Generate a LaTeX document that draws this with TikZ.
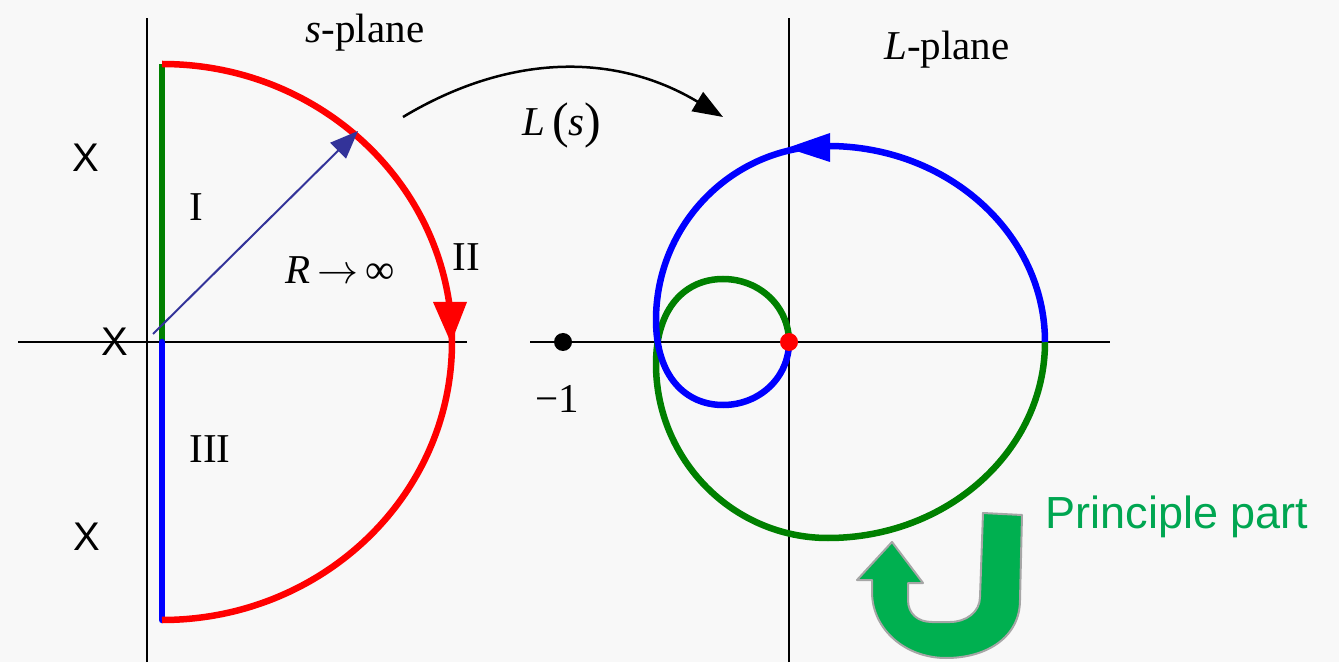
\RequirePackage{fix-cm}
\documentclass[tikz,border=0pt]{standalone}
\usepackage{fontspec}
\setmainfont{Liberation Serif}
\setsansfont{Liberation Sans}
\usetikzlibrary{arrows.meta}
\definecolor{bggray}{RGB}{248, 248, 248}
\definecolor{nyqred}{RGB}{255, 0, 0}
\definecolor{nyqgreen}{RGB}{0, 128, 0}
\definecolor{nyqblue}{RGB}{0, 0, 255}
\definecolor{radiusnavy}{RGB}{51, 51, 153}
\definecolor{ushapegreen}{RGB}{0, 176, 80}
\definecolor{ushapeedge}{RGB}{166, 166, 166}
\definecolor{notegreen}{RGB}{0, 166, 81}
\newcommand{\bigparen}[1]{{\fontsize{50}{50}\selectfont\raisebox{-2pt}{#1}}}

\begin{document}
\begin{tikzpicture}[x=1pt,y=1pt,
    axis/.style={line width=2pt},
    contour/.style={line width=6.5pt},
    lbl/.style={font=\fontsize{41}{45}\selectfont, inner sep=0pt},
    polemark/.style={font=\sffamily\fontsize{40}{44}\selectfont, inner sep=0pt}]
    \fill[bggray] (0,0) rectangle (1339,662);
    \useasboundingbox (0,0) rectangle (1339,662);
    % s-plane
    \draw[axis] (147,0) -- (147,644);
    \draw[axis] (18,320) -- (467,320);
    \draw[contour,nyqgreen] (162,598) -- (162,320);
    \draw[contour,nyqblue,line cap=round] (162,320) -- (162,42);
    \draw[contour,nyqred] (162,598) arc[start angle=90,end angle=-90,x radius=290,y radius=278];
    \fill[nyqred] (451,319) -- (433,360) -- (467,360) -- cycle;
    \coordinate (sorig) at (153,328);
    \coordinate (rtip) at (358,531);
    \draw[radiusnavy,line width=2pt,-{Triangle[length=28pt,width=22pt]}] (sorig) -- (rtip);
    \node[polemark] (pole1) at (86,504) {X};
    \node[polemark] (pole2) at (115,320) {X};
    \node[polemark] (pole3) at (87,125) {X};
    \node[lbl] (partI) at (196,455) {I};
    \node[lbl] (partII) at (466,405) {II};
    \node[lbl] (partIII) at (210,213) {III};
    \node[lbl,anchor=base] (radius) at (340,378) {\textit{R}\,$\rightarrow$\,∞};
    \node[lbl,anchor=base] (splane) at (365,619) {\textit{s}-plane};
    % mapping
    \coordinate (mapfrom) at (403,545);
    \coordinate (mapto) at (723,545);
    \draw[line width=2.5pt,-{Triangle[length=30pt,width=22pt]}] (mapfrom) to[bend left=31] (mapto);
    \node[lbl] (lmap) at (562,537) {\textit{L}\,\bigparen{(}\textit{s}\bigparen{)}};
    % L-plane
    \draw[axis] (789,0) -- (789,644);
    \draw[axis] (530,320) -- (1110,320);
    \node[lbl,anchor=base] (lplane) at (947,602) {\textit{L}-plane};
    \begin{scope}[shift={(789,320)}]
        \begin{scope}[yscale=-1]
            \draw[contour,nyqgreen] (256,0) .. controls (256,108) and (159,196) .. (39,196)
                .. controls (-56,196) and (-133,118) .. (-133,22)
                .. controls (-133,-35) and (-103,-63) .. (-66,-63)
                .. controls (-29,-63) and (0,-35) .. (0,0);
        \end{scope}
        \draw[contour,nyqblue] (256,0) .. controls (256,108) and (159,196) .. (39,196)
            .. controls (-56,196) and (-133,118) .. (-133,22)
            .. controls (-133,-35) and (-103,-63) .. (-66,-63)
            .. controls (-29,-63) and (0,-35) .. (0,0);
        \fill[nyqblue] (-2,194) -- (41,209) -- (41,180) -- cycle;
        \fill[nyqred] (0,0) circle (9);
        \fill (-226,0) circle (9);
    \end{scope}
    \node[lbl] (minusone) at (557,263) {−1};
    % principal part
    \draw[ushapeedge,fill=ushapegreen,line width=2pt,line join=round]
        (983,149) -- (1022,147) -- (1020,62)
        .. controls (1020,25) and (987,4) .. (946,4)
        .. controls (905,4) and (872,33) .. (872,70)
        -- (872,82) -- (857,82) -- (892,120) -- (923,79) -- (908,79) -- (908,62)
        .. controls (908,48) and (918,40) .. (932,40) -- (950,40)
        .. controls (966,40) and (980,50) .. (980,65) -- cycle;
    \node[font=\sffamily\fontsize{45}{49}\selectfont,text=notegreen,inner sep=0pt,anchor=base] (ppart) at (1177,134) {Principle part};
\end{tikzpicture}
\end{document}
